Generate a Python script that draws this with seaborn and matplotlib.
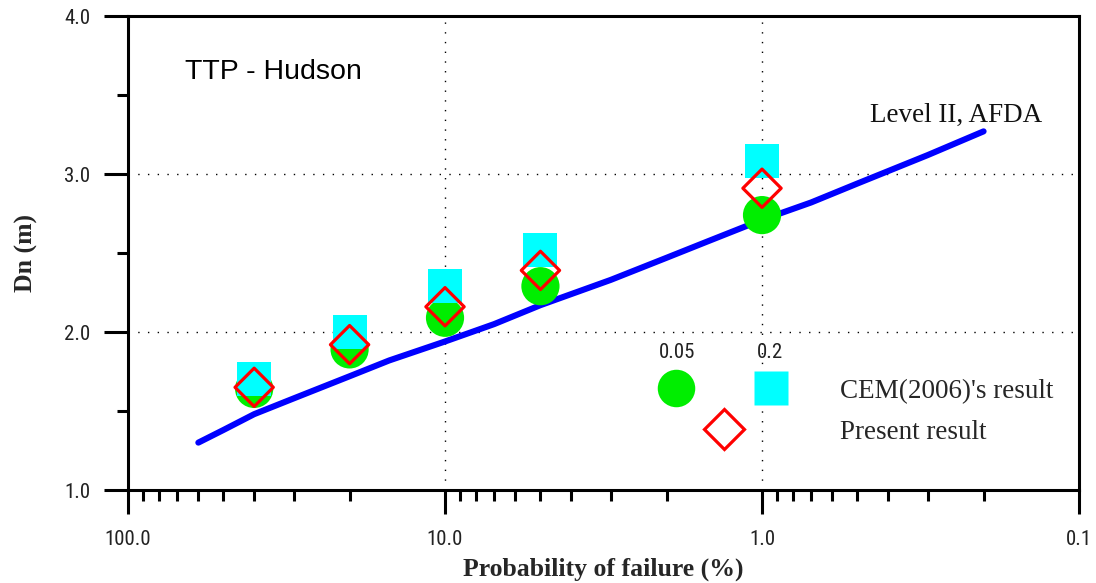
import numpy as np
import pandas as pd
import matplotlib
matplotlib.use("Agg")
import matplotlib.pyplot as plt
from matplotlib import font_manager
from matplotlib.lines import Line2D
from matplotlib.legend_handler import HandlerTuple
import seaborn as sns

# ---------------- data ----------------
pf_points = [40.0, 20.0, 10.0, 5.0, 1.0]          # probability of failure (%)
dn_cem_b005 = [1.64, 1.89, 2.09, 2.29, 2.74]      # green circles (CEM, b=0.05)
dn_cem_b02 = [1.70, 2.00, 2.29, 2.52, 3.08]       # cyan squares (CEM, b=0.2)
dn_present = [1.65, 1.92, 2.16, 2.39, 2.91]       # red diamonds (present result)

pf_line = [60, 50, 40, 30, 20, 15, 10, 7, 5, 3, 2, 1.5, 1, 0.7, 0.5, 0.3, 0.2]
dn_line = [1.30, 1.38, 1.48, 1.58, 1.72, 1.82, 1.94, 2.05, 2.17, 2.33, 2.47,
           2.57, 2.71, 2.82, 2.94, 3.12, 3.27]

x_ticks = [100.0, 10.0, 1.0, 0.1]
x_ticklabels = ["100.0", "10.0", "1.0", "0.1"]
y_ticks = [1.0, 2.0, 3.0, 4.0]
y_ticklabels = ["1.0", "2.0", "3.0", "4.0"]

df_pts = pd.DataFrame({"pf": pf_points, "circ": dn_cem_b005,
                       "sq": dn_cem_b02, "dia": dn_present})
df_line = pd.DataFrame({"pf": pf_line, "dn": dn_line})

# ---------------- style ----------------
sns.set_style("ticks")
names = {f.name for f in font_manager.fontManager.ttflist}
tick_font = "DejaVu Sans"
for cand in ["Liberation Sans Narrow", "Roboto Condensed", "Open Sans Condensed",
             "Noto Sans Condensed", "DejaVu Sans Condensed"]:
    if cand in names:
        tick_font = cand
        break
plt.rcParams["font.family"] = ["Liberation Serif", "DejaVu Serif"]

GREEN = "#00ee00"
CYAN = "#00ffff"
RED = "#ff0000"
BLUE = "#0000ff"

fig = plt.figure(figsize=(10.96, 5.83), dpi=100)
ax = fig.add_axes([0.1168, 0.1595, 0.8677, 0.8130])

sns.lineplot(data=df_line, x="pf", y="dn", ax=ax, color=BLUE, lw=4.4,
             solid_capstyle="round", zorder=3, legend=False)

sns.scatterplot(data=df_pts, x="pf", y="circ", ax=ax, marker="o", s=27.5**2,
                color=GREEN, edgecolor="none", zorder=4, legend=False)
sns.scatterplot(data=df_pts, x="pf", y="sq", ax=ax, marker="s", s=24.5**2,
                color=CYAN, edgecolor="none", zorder=5, legend=False)
sns.scatterplot(data=df_pts, x="pf", y="dia", ax=ax, marker="D", s=19.5**2,
                color=RED, linewidth=2.3, zorder=6, legend=False)
dia = ax.collections[-1]
dia.set_facecolor("none")
dia.set_edgecolor(RED)
dia.set_linewidth(2.3)

ax.set_xscale("log")
ax.set_xlim(100, 0.1)
ax.set_ylim(1.0, 4.0)

ax.set_xticks(x_ticks)
ax.set_xticklabels(x_ticklabels)
ax.xaxis.set_minor_locator(matplotlib.ticker.LogLocator(base=10, subs=np.arange(2, 10)))
ax.xaxis.set_minor_formatter(matplotlib.ticker.NullFormatter())
ax.set_yticks(y_ticks)
ax.set_yticklabels(y_ticklabels)
ax.set_yticks([1.5, 2.5, 3.5], minor=True)

TICK_FS = 13.5 if tick_font == "DejaVu Sans" else 15
for lab in ax.get_xticklabels() + ax.get_yticklabels():
    lab.set_family(tick_font)
    lab.set_fontsize(TICK_FS)
    lab.set_color("#222222")

ax.tick_params(axis="both", which="major", direction="out", length=17, width=2.2,
               color="black", pad=10)
ax.tick_params(axis="both", which="minor", direction="out", length=8, width=2.2,
               color="black")
ax.tick_params(axis="x", which="major", pad=12)
ax.tick_params(top=False, right=False, which="both")

for sp in ax.spines.values():
    sp.set_visible(True)
    sp.set_linewidth(2.2)
    sp.set_color("black")

ax.grid(True, which="major", color="black", linestyle=(0, (1, 6)), lw=1.0)
ax.set_axisbelow(True)

ax.set_xlabel("Probability of failure (%)", fontsize=18.5, fontweight="bold")
ax.set_ylabel("Dn (m)", fontsize=18.5, fontweight="bold")
ax.xaxis.set_label_coords(0.5, -0.142)
ax.yaxis.set_label_coords(-0.095, 0.5)

ax.text(0.06, 0.8825, "TTP - Hudson", transform=ax.transAxes, fontsize=20.5,
        family=["Liberation Sans", "DejaVu Sans"], va="center", ha="left",
        color="black")
ax.text(0.780, 0.791, "Level II, AFDA", transform=ax.transAxes, fontsize=19.5,
        va="center", ha="left", color="#111111")
ax.text(0.577, 0.291, "0.05", transform=ax.transAxes, fontsize=TICK_FS,
        family=tick_font, va="center", ha="center", color="#222222")
ax.text(0.675, 0.291, "0.2", transform=ax.transAxes, fontsize=TICK_FS,
        family=tick_font, va="center", ha="center", color="#222222")

h_circ = Line2D([], [], ls="none", marker="o", ms=27, mfc=GREEN, mec="none")
h_sq = Line2D([], [], ls="none", marker="s", ms=24, mfc=CYAN, mec="none")
h_dia = Line2D([], [], ls="none", marker="D", ms=20, mfc="none", mec=RED, mew=2.3)
leg = ax.legend([(h_circ, h_sq), h_dia], ["CEM(2006)'s result", "Present result"],
                handler_map={tuple: HandlerTuple(ndivide=None, pad=0)},
                loc="upper left", bbox_to_anchor=(0.5265, 0.235),
                borderaxespad=0, borderpad=0, frameon=False,
                fontsize=19.5, handlelength=7.0, handletextpad=0.8,
                labelspacing=0.6)

fig.savefig("out.png", dpi=100)
